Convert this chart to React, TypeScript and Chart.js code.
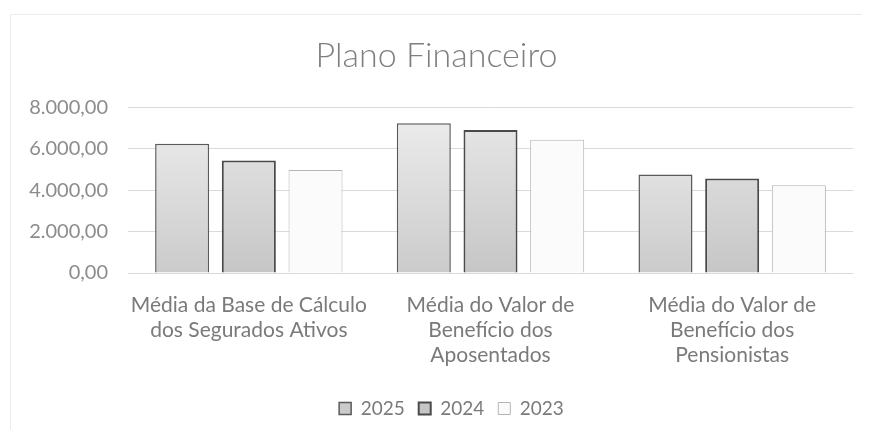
import React, { useEffect, useRef } from "react";
import { Chart, registerables } from "chart.js";

Chart.register(...registerables);

const categories: string[][] = [
  ["Média da Base de Cálculo", "dos Segurados Ativos"],
  ["Média do Valor de", "Benefício dos", "Aposentados"],
  ["Média do Valor de", "Benefício dos", "Pensionistas"],
];
const seriesLabels = ["2025", "2024", "2023"];
const values2025 = [6240, 7230, 4760];
const values2024 = [5430, 6910, 4560];
const values2023 = [4980, 6440, 4240];
const yTicks = [0, 2000, 4000, 6000, 8000];

const FONT = "Lato, 'Open Sans', sans-serif";

function fmt(v: number): string {
  const neg = v < 0;
  const abs = Math.abs(v);
  const intPart = Math.floor(abs).toString();
  const dec = Math.round((abs - Math.floor(abs)) * 100)
    .toString()
    .padStart(2, "0");
  const withSep = intPart.replace(/\B(?=(\d{3})+(?!\d))/g, ".");
  return (neg ? "-" : "") + withSep + "," + dec;
}

function gradient(chart: any, top: string, bottom: string, fallback: string) {
  const area = chart.chartArea;
  if (!area) return fallback;
  const g = chart.ctx.createLinearGradient(0, area.top, 0, area.bottom);
  g.addColorStop(0, top);
  g.addColorStop(1, bottom);
  return g;
}

const framePlugin = {
  id: "frame",
  afterLayout(chart: any) {
    const lg = chart.legend;
    if (lg) {
      lg.left += 15;
      lg.right += 15;
    }
  },
  beforeDraw(chart: any) {
    const ctx = chart.ctx;
    ctx.save();
    ctx.fillStyle = "#ffffff";
    ctx.fillRect(0, 0, chart.width, chart.height);
    ctx.strokeStyle = "#ececec";
    ctx.lineWidth = 1;
    ctx.beginPath();
    ctx.moveTo(10.5, 430);
    ctx.lineTo(10.5, 14.5);
    ctx.lineTo(862, 14.5);
    ctx.stroke();
    ctx.restore();
  },
};

export default function App() {
  const ref = useRef<HTMLCanvasElement | null>(null);

  useEffect(() => {
    if (!ref.current) return;
    const chart = new Chart(ref.current, {
      type: "bar",
      data: {
        labels: categories,
        datasets: [
          {
            label: seriesLabels[0],
            data: values2025,
            backgroundColor: (c: any) => gradient(c.chart, "#eeeeee", "#cbcbcb", "#dcdcdc"),
            borderColor: "#5a5a5a",
            borderWidth: 1.5,
          },
          {
            label: seriesLabels[1],
            data: values2024,
            backgroundColor: (c: any) => gradient(c.chart, "#e9e9e9", "#c6c6c6", "#d4d4d4"),
            borderColor: "#4a4a4a",
            borderWidth: 2,
          },
          {
            label: seriesLabels[2],
            data: values2023,
            backgroundColor: "#fbfbfb",
            borderColor: "#b5b5b5",
            borderWidth: 1,
          },
        ],
      },
      options: {
        animation: false,
        responsive: false,
        maintainAspectRatio: false,
        layout: { padding: { left: 20, right: 16, top: 5, bottom: 9 } },
        datasets: {
          bar: { categoryPercentage: 0.828, barPercentage: 0.81 },
        },
        scales: {
          x: {
            grid: { display: false, drawTicks: false },
            border: { display: false },
            ticks: {
              color: "#7a7a7a",
              font: { family: FONT, size: 21, lineHeight: 1.18 },
              padding: 20,
              maxRotation: 0,
              autoSkip: false,
            },
            afterFit: (scale: any) => {
              scale.height = 112;
            },
          },
          y: {
            min: 0,
            max: 8000,
            afterBuildTicks: (scale: any) => {
              scale.ticks = yTicks.map((v) => ({ value: v }));
            },
            grid: { color: "#dadada", lineWidth: 1, drawTicks: false },
            border: { display: false },
            ticks: {
              color: "#8c8c8c",
              font: { family: FONT, size: 20 },
              padding: 20,
              callback: (v: any) => fmt(Number(v)),
            },
            afterFit: (scale: any) => {
              scale.width = 108;
            },
          },
        },
        plugins: {
          title: {
            display: true,
            text: "Plano Financeiro",
            color: "#7f7f7f",
            font: { family: FONT, size: 34, weight: "300" as any, lineHeight: 1.1 },
            padding: { top: 32, bottom: 33 },
          },
          legend: {
            position: "bottom",
            labels: {
              color: "#7a7a7a",
              font: { family: FONT, size: 19 },
              boxWidth: 12,
              boxHeight: 12,
              padding: 14,
            },
          },
          tooltip: { enabled: false },
        },
      },
      plugins: [framePlugin],
    });
    return () => chart.destroy();
  }, []);

  return (
    <div style={{ position: "fixed", left: 0, top: 0, width: 869, height: 437 }}>
      <canvas ref={ref} width={869} height={437} style={{ width: 869, height: 437 }} />
    </div>
  );
}
